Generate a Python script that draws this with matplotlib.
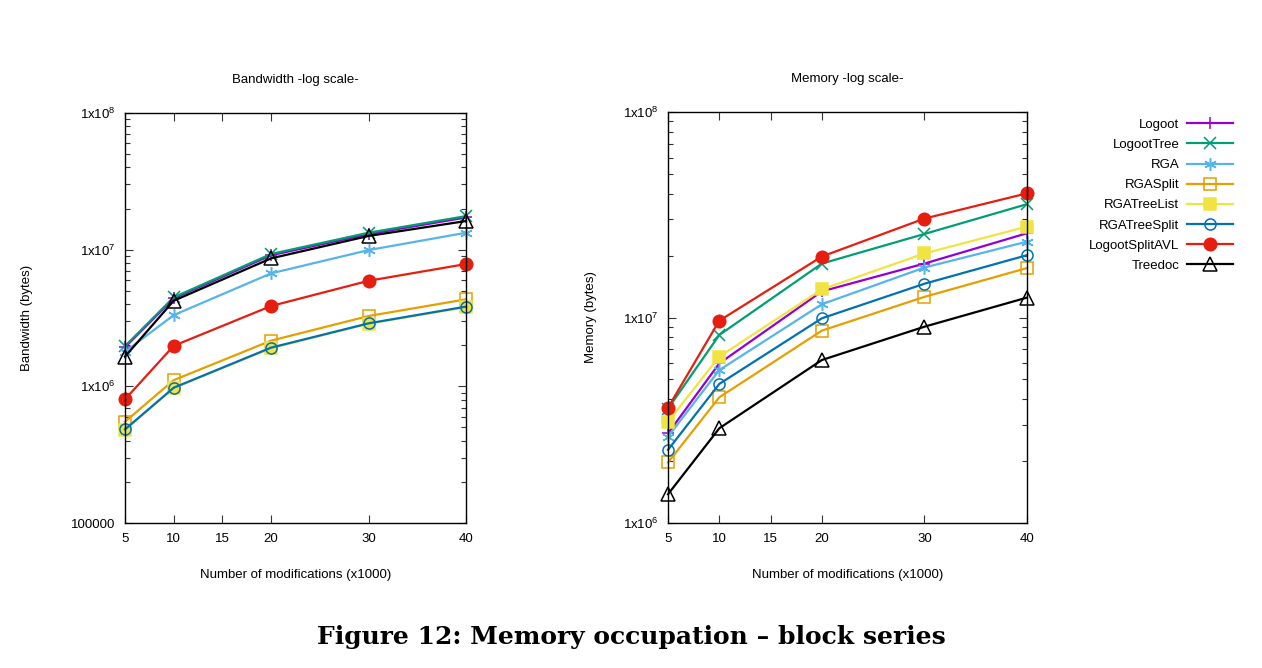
import matplotlib
matplotlib.use("Agg")
import math
import matplotlib.pyplot as plt
from matplotlib.ticker import FixedLocator, FuncFormatter, LogLocator, NullFormatter

plt.rcParams['font.family'] = ['Liberation Sans', 'DejaVu Sans']
plt.rcParams['mathtext.fontset'] = 'custom'
plt.rcParams['mathtext.rm'] = 'Liberation Sans'
plt.rcParams['mathtext.it'] = 'Liberation Sans'

x_mods = [5, 10, 20, 30, 40]
x_ticks = [5, 10, 15, 20, 30, 40]

series = ["Logoot", "LogootTree", "RGA", "RGASplit", "RGATreeList",
          "RGATreeSplit", "LogootSplitAVL", "Treedoc"]

bw_logoot = [1.93e6, 4.40e6, 9.1e6, 1.30e7, 1.72e7]
bw_logoottree = [1.97e6, 4.48e6, 9.3e6, 1.33e7, 1.76e7]
bw_rga = [1.79e6, 3.32e6, 6.71e6, 9.93e6, 1.33e7]
bw_rgasplit = [5.51e5, 1.11e6, 2.16e6, 3.27e6, 4.33e6]
bw_rgatreelist = [4.80e5, 9.70e5, 1.90e6, 2.87e6, 3.80e6]
bw_rgatreesplit = [4.84e5, 9.77e5, 1.92e6, 2.89e6, 3.83e6]
bw_logootsplitavl = [8.03e5, 1.98e6, 3.87e6, 5.92e6, 7.85e6]
bw_treedoc = [1.65e6, 4.23e6, 8.64e6, 1.26e7, 1.62e7]

mem_logoot = [2.73e6, 5.98e6, 1.34e7, 1.83e7, 2.57e7]
mem_logoottree = [3.60e6, 8.22e6, 1.83e7, 2.55e7, 3.56e7]
mem_rga = [2.63e6, 5.55e6, 1.16e7, 1.75e7, 2.34e7]
mem_rgasplit = [1.97e6, 4.09e6, 8.63e6, 1.26e7, 1.74e7]
mem_rgatreelist = [3.11e6, 6.45e6, 1.37e7, 2.05e7, 2.77e7]
mem_rgatreesplit = [2.27e6, 4.75e6, 9.91e6, 1.46e7, 2.01e7]
mem_logootsplitavl = [3.64e6, 9.65e6, 1.98e7, 3.03e7, 4.02e7]
mem_treedoc = [1.38e6, 2.89e6, 6.21e6, 9.02e6, 1.25e7]

bw_data = [bw_logoot, bw_logoottree, bw_rga, bw_rgasplit, bw_rgatreelist,
           bw_rgatreesplit, bw_logootsplitavl, bw_treedoc]
mem_data = [mem_logoot, mem_logoottree, mem_rga, mem_rgasplit, mem_rgatreelist,
            mem_rgatreesplit, mem_logootsplitavl, mem_treedoc]

colors = ["#9400d3", "#009e73", "#56b4e9", "#e69f00", "#f0e442",
          "#0072b2", "#e51e10", "#000000"]
markers = ["+", "x", (6, 2, 0), "s", "s", "o", "o", "^"]
fills = ["full", "full", "full", "none", "full", "none", "full", "none"]
msizes = [9, 9, 9, 8, 8.5, 8, 9, 10]

fig = plt.figure(figsize=(12.62, 6.68), dpi=100)
ax1 = fig.add_axes([125/1262, 1-523/668, 341/1262, 410/668])
ax2 = fig.add_axes([668/1262, 1-523/668, 359/1262, 411/668])


def fmt(v, pos, plain_low=None):
    e = int(round(math.log10(v)))
    if plain_low is not None and e == plain_low:
        return "100000"
    return "1x10$^{%d}$" % e


def style(ax, ylo, yhi, plain_low):
    ax.set_yscale('log')
    ax.set_xlim(5, 40)
    ax.set_ylim(ylo, yhi)
    ax.xaxis.set_major_locator(FixedLocator(x_ticks))
    ax.xaxis.set_minor_locator(FixedLocator([]))
    ax.yaxis.set_major_locator(LogLocator(base=10, numticks=10))
    ax.yaxis.set_minor_locator(LogLocator(base=10, subs=range(2, 10), numticks=20))
    ax.yaxis.set_major_formatter(FuncFormatter(lambda v, p: fmt(v, p, plain_low)))
    ax.yaxis.set_minor_formatter(NullFormatter())
    ax.tick_params(which='both', direction='in', top=True, right=True,
                   labelsize=9.5, width=0.8, colors='#333333', labelcolor='black')
    ax.tick_params(which='major', length=6, pad=7)
    ax.tick_params(which='minor', length=3.5)
    for s in ax.spines.values():
        s.set_linewidth(1.0)
        s.set_color('black')


handles = []
for ax, data in ((ax1, bw_data), (ax2, mem_data)):
    hs = []
    for name, vals, c, m, f, ms in zip(series, data, colors, markers, fills, msizes):
        h, = ax.plot(x_mods, vals, color=c, lw=1.6, marker=m, markersize=ms,
                     fillstyle=f, markeredgewidth=1.1,
                     markerfacecolor=(c if f == 'full' else 'none'),
                     label=name, clip_on=False)
        hs.append(h)
    handles = hs

style(ax1, 1e5, 1e8, 5)
style(ax2, 1e6, 1e8, None)

ax1.text(0.5, 1 + 33/410, "Bandwidth -log scale-", transform=ax1.transAxes,
         ha='center', va='center', fontsize=9.5)
ax2.text(0.5, 1 + 33/411, "Memory -log scale-", transform=ax2.transAxes,
         ha='center', va='center', fontsize=9.5)
ax1.set_xlabel("Number of modifications (x1000)", fontsize=9.5)
ax2.set_xlabel("Number of modifications (x1000)", fontsize=9.5)
ax1.xaxis.set_label_coords(0.5, -46/410)
ax2.xaxis.set_label_coords(0.5, -46/411)
ax1.set_ylabel("Bandwidth (bytes)", fontsize=9.5)
ax2.set_ylabel("Memory (bytes)", fontsize=9.5)
ax1.yaxis.set_label_coords(-92/341, 0.5)
ax2.yaxis.set_label_coords(-71/359, 0.5)

fig.legend(handles=handles, labels=series, loc='upper right',
           bbox_to_anchor=(1240/1262, 1-112/668), frameon=False,
           markerfirst=False, fontsize=9.5, handlelength=3.5,
           labelspacing=0.6, handletextpad=0.6, borderpad=0)

fig.text(0.5, 1-637/668, "Figure 12: Memory occupation \u2013 block series",
         ha='center', va='center', fontsize=18, fontweight='bold',
         family=['DejaVu Serif'])

fig.savefig("out.png", dpi=100)
